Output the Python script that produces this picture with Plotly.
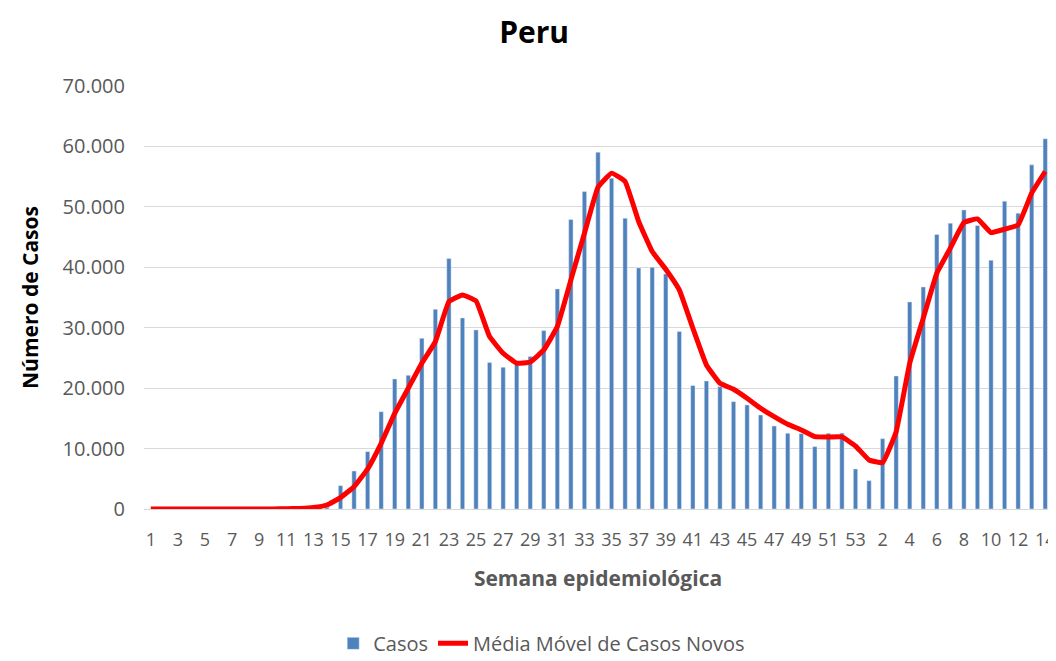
import plotly.graph_objects as go

# semanas epidemiológicas: 2020 (1-53) seguido de 2021 (1-14)
weeks = [str(w) for w in range(1, 54)] + [str(w) for w in range(1, 15)]

casos = [0, 0, 0, 0, 0, 0, 0, 0, 0, 0,
         30, 150, 250, 300,
         3860, 6290, 9490, 16100, 21520, 22130, 28260, 33060, 41440, 31620,
         29640, 24230, 23460, 24000, 25220, 29520, 36420, 47900, 52530, 59050,
         54750, 48130, 39900, 40010, 38900, 29360, 20420, 21190, 20250, 17770,
         17220, 15560, 13740, 12530, 12470, 10320, 12530, 12560, 6620,
         4690, 11640, 22020, 34270, 36750, 45420, 47300, 49500, 46910, 41170,
         50940, 48960, 56950, 61260]

media_movel = [0, 0, 0, 0, 0, 0, 0, 0, 0, 20,
               50, 100, 250, 660,
               1880, 3700, 6620, 10870, 15840, 19980, 24120, 27700, 34320, 35430,
               34440, 28530, 25770, 24120, 24340, 26320, 30190, 37910, 45640, 53260,
               55580, 54190, 47570, 42600, 39680, 36260, 29910, 23840, 20810, 19810,
               18320, 16670, 15290, 14020, 13080, 11970, 11920, 11920, 10430,
               8110, 7670, 12800, 24120, 31570, 39020, 43160, 47400, 48010, 45750,
               46300, 47020, 52270, 55850]

x = list(range(len(weeks)))

fig = go.Figure()

fig.add_trace(
    go.Bar(x=x,
           y=casos,
           name='Casos',
           marker_color='#4f81bd',
           )
)

fig.add_trace(
    go.Scatter(x=x,
               y=media_movel,
               name='Média Móvel de Casos Novos',
               mode='lines',
               line=dict(color='#ff0000', width=5, shape='spline', smoothing=0.3),
               )
)

# the page body adds an 8px offset, so the figure is a little smaller than the window
fig.update_layout(
    title=dict(
        text='<b>Peru</b>',
        x=0.502,
        xanchor='center',
        y=0.963,
        yanchor='middle',
        font=dict(family="Open Sans", size=30, color='black'),
    ),
    font=dict(family="Open Sans", size=18, color='#595959'),
    separators=',.',
    bargap=0.68,
    plot_bgcolor='white',
    paper_bgcolor='white',
    xaxis=dict(title=dict(text='<b>Semana epidemiológica</b>', standoff=21,
                          font=dict(size=21, color='#595959')),
               tickmode='array',
               tickvals=x[::2],
               ticktext=weeks[::2],
               tickangle=0,
               tickfont=dict(size=18),
               ticklabelstandoff=14,
               range=[-0.5, len(weeks) - 0.5],
               showline=True,
               linecolor='#d9d9d9',
               linewidth=1,
               showgrid=False,
               ticks='',
               automargin=False,
               ),
    yaxis=dict(title=dict(text='<b>Número de Casos</b>', standoff=18,
                          font=dict(size=21, color='black')),
               range=[0, 70000],
               dtick=10000,
               tickformat=',d',
               tickfont=dict(size=20),
               ticklabelstandoff=18,
               showgrid=True,
               gridcolor='#d9d9d9',
               gridwidth=1,
               zeroline=False,
               ticks='',
               automargin=False,
               ),
    legend=dict(orientation='h', x=0.438, xanchor='center',
                yref='container', y=0.027, yanchor='middle',
                font=dict(size=20, color='#595959')),
    margin=dict(l=136, r=4, t=78, b=152, pad=0),
    height=653,
    width=1048,
)

fig.write_html("out.html")
